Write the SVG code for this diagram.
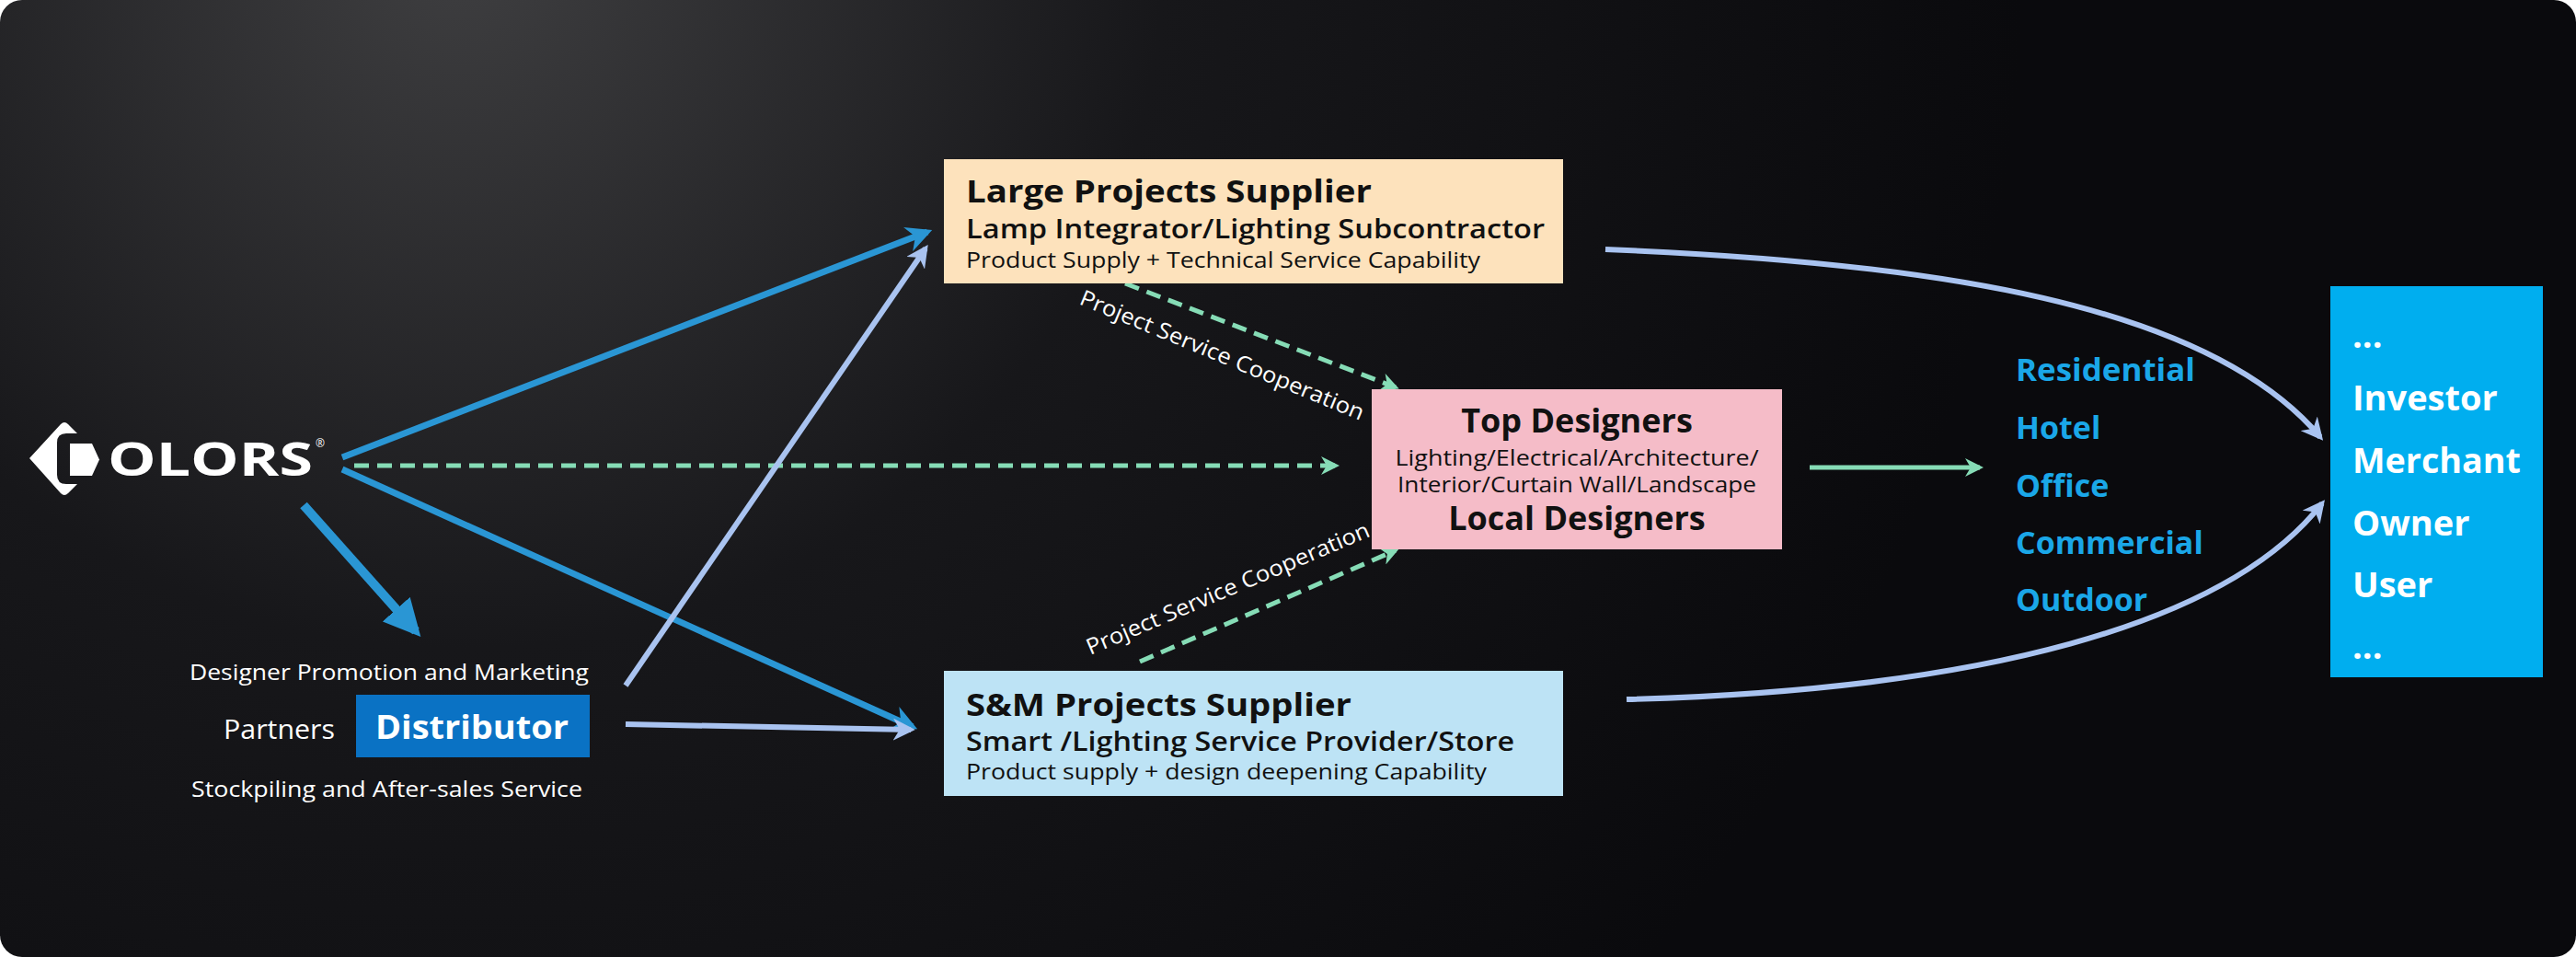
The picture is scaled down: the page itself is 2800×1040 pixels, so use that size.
<svg xmlns="http://www.w3.org/2000/svg" width="2800" height="1040" viewBox="0 0 2800 1040">
<defs>
<radialGradient id="bg" cx="500" cy="-60" r="1700" gradientUnits="userSpaceOnUse">
<stop offset="0" stop-color="#3f3f41"/><stop offset="0.45" stop-color="#17171a"/><stop offset="1" stop-color="#0a0a0d"/>
</radialGradient>
<marker id="mb" viewBox="0 0 10 10" refX="8" refY="5" markerWidth="4" markerHeight="4" orient="auto" markerUnits="strokeWidth"><path d="M0,0 L10,5 L0,10 L3,5 z" fill="#2a96d4"/></marker>
<marker id="ml" viewBox="0 0 10 10" refX="8" refY="5" markerWidth="4" markerHeight="4" orient="auto" markerUnits="strokeWidth"><path d="M0,0 L10,5 L0,10 L3,5 z" fill="#a9c3f0"/></marker>
<marker id="mg" viewBox="0 0 10 10" refX="8" refY="5" markerWidth="4" markerHeight="4" orient="auto" markerUnits="strokeWidth"><path d="M0,0 L10,5 L0,10 L3,5 z" fill="#86dcb6"/></marker>
<marker id="mbig" viewBox="0 0 10 10" refX="8" refY="5" markerWidth="4" markerHeight="4" orient="auto" markerUnits="strokeWidth"><path d="M0,0 L10,5 L0,10 z" fill="#2a96d4"/></marker>
</defs>
<style>
text{font-family:"Open Sans","Liberation Sans",sans-serif}
.b{font-weight:700}
.sb{font-weight:600}
.k{fill:#111}
.w{fill:#fff}
.seg{fill:#1aa7e8;font-weight:700;font-size:34px}
.usr{fill:#fff;font-weight:700;font-size:38px}
.blue{stroke:#2a96d4;stroke-width:7;fill:none;marker-end:url(#mb)}
.lb{stroke:#a9c3f0;stroke-width:6;fill:none;marker-end:url(#ml)}
.gd{stroke:#86dcb6;stroke-width:5;fill:none;stroke-dasharray:16 9;marker-end:url(#mg)}
.lbl{fill:#fff;font-size:24px}
</style>
<rect width="2800" height="1040" fill="#ffffff"/>
<rect width="2800" height="1040" rx="24" fill="url(#bg)"/>

<g id="logo">
<path d="M32,498 L66,461 Q70,457 74,461 L84,471 L72,471 Q62,471 62,481 L62,516 Q62,526 72,526 L84,526 L74,536 Q70,540 66,536 Z" fill="#fff"/>
<polygon points="76,482 100,482 108,499.5 100,517 76,517" fill="#fff"/>
<text x="117" y="517" class="w b" font-size="50" textLength="223" lengthAdjust="spacingAndGlyphs">OLORS</text>
<text x="343" y="486" class="w" font-size="12">®</text>
</g>

<g id="connectors">
<line x1="372" y1="497" x2="1008" y2="252" class="blue"/>
<line x1="372" y1="510" x2="992" y2="790" class="blue"/>
<line x1="330" y1="549" x2="452" y2="686" stroke="#2a96d4" stroke-width="10" marker-end="url(#mbig)"/>
<line x1="385" y1="506" x2="1452" y2="506" class="gd"/>
<line x1="680" y1="745" x2="1006" y2="270" class="lb"/>
<line x1="680" y1="787" x2="990" y2="793" class="lb"/>
<line x1="1223" y1="308" x2="1517" y2="421" class="gd"/>
<line x1="1239" y1="719" x2="1517" y2="598" class="gd"/>
<line x1="1967" y1="508" x2="2152" y2="508" stroke="#86dcb6" stroke-width="5" marker-end="url(#mg)"/>
<path d="M1745,271 C2100,285 2400,330 2522,475" class="lb"/>
<path d="M1768,760 C2150,750 2420,680 2524,547" class="lb"/>
<text class="lbl" transform="translate(1172,330) rotate(22.5)" textLength="332" lengthAdjust="spacingAndGlyphs">Project Service Cooperation</text>
<text class="lbl" transform="translate(1185,712) rotate(-23)" textLength="332" lengthAdjust="spacingAndGlyphs">Project Service Cooperation</text>
</g>

<g id="large">
<rect x="1026" y="173" width="673" height="135" fill="#fde2bc"/>
<text x="1050" y="220" class="k b" font-size="34" textLength="441" lengthAdjust="spacingAndGlyphs">Large Projects Supplier</text>
<text x="1050" y="259" class="k sb" font-size="29" textLength="629" lengthAdjust="spacingAndGlyphs">Lamp Integrator/Lighting Subcontractor</text>
<text x="1050" y="291" class="k" font-size="23" textLength="559" lengthAdjust="spacingAndGlyphs">Product Supply + Technical Service Capability</text>
</g>

<g id="designers">
<rect x="1491" y="423" width="446" height="174" fill="#f5bcc8"/>
<text x="1714" y="470" class="k b" font-size="36" text-anchor="middle">Top Designers</text>
<text x="1714" y="506" class="k" font-size="23" text-anchor="middle" textLength="395" lengthAdjust="spacingAndGlyphs">Lighting/Electrical/Architecture/</text>
<text x="1714" y="535" class="k" font-size="23" text-anchor="middle" textLength="390" lengthAdjust="spacingAndGlyphs">Interior/Curtain Wall/Landscape</text>
<text x="1714" y="576" class="k b" font-size="36" text-anchor="middle">Local Designers</text>
</g>

<g id="sm">
<rect x="1026" y="729" width="673" height="136" fill="#bde3f5"/>
<text x="1050" y="778" class="k b" font-size="34" textLength="419" lengthAdjust="spacingAndGlyphs">S&amp;M Projects Supplier</text>
<text x="1050" y="816" class="k sb" font-size="29" textLength="596" lengthAdjust="spacingAndGlyphs">Smart /Lighting Service Provider/Store</text>
<text x="1050" y="847" class="k" font-size="23" textLength="566" lengthAdjust="spacingAndGlyphs">Product supply + design deepening Capability</text>
</g>

<g id="distributor">
<text x="206" y="739" class="w" font-size="24" textLength="434" lengthAdjust="spacingAndGlyphs">Designer Promotion and Marketing</text>
<text x="243" y="803" class="w" font-size="30" textLength="121" lengthAdjust="spacingAndGlyphs">Partners</text>
<rect x="387" y="755" width="254" height="68" fill="#0a72c4"/>
<text x="408" y="803" class="w b" font-size="36" textLength="210" lengthAdjust="spacingAndGlyphs">Distributor</text>
<text x="208" y="866" class="w" font-size="24" textLength="425" lengthAdjust="spacingAndGlyphs">Stockpiling and After-sales Service</text>
</g>

<g id="segments">
<text x="2191" y="414" class="seg" textLength="195" lengthAdjust="spacingAndGlyphs">Residential</text>
<text x="2191" y="477" class="seg">Hotel</text>
<text x="2191" y="540" class="seg">Office</text>
<text x="2191" y="602" class="seg">Commercial</text>
<text x="2191" y="664" class="seg">Outdoor</text>
</g>

<g id="users">
<rect x="2533" y="311" width="231" height="425" fill="#00aeef"/>
<text x="2557" y="378" class="usr" font-size="26">...</text>
<text x="2557" y="446" class="usr">Investor</text>
<text x="2557" y="514" class="usr" textLength="183" lengthAdjust="spacingAndGlyphs">Merchant</text>
<text x="2557" y="582" class="usr">Owner</text>
<text x="2557" y="649" class="usr">User</text>
<text x="2557" y="716" class="usr" font-size="26">...</text>
</g>
</svg>
